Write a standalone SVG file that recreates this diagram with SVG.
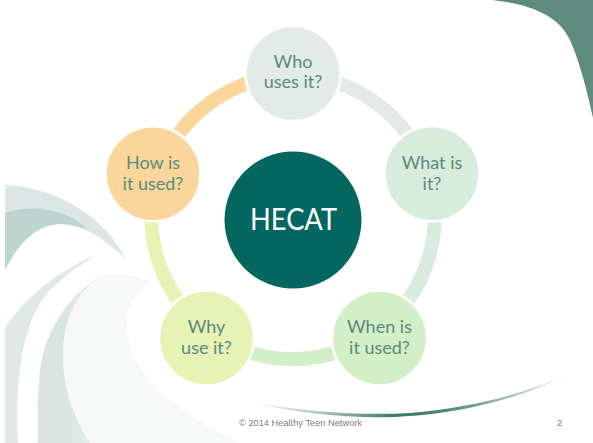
<svg xmlns="http://www.w3.org/2000/svg" width="593" height="443" viewBox="0 0 593 443">
  <defs>
    <linearGradient id="swoosh" x1="250" y1="0" x2="575" y2="0" gradientUnits="userSpaceOnUse">
      <stop offset="0" stop-color="#ffffff"/>
      <stop offset="0.25" stop-color="#9dbab3"/>
      <stop offset="0.45" stop-color="#3c786a"/>
      <stop offset="0.6" stop-color="#4f8577"/>
      <stop offset="0.85" stop-color="#b9d0ca"/>
      <stop offset="1" stop-color="#ffffff"/>
    </linearGradient>
    <linearGradient id="bandC" x1="40" y1="0" x2="90" y2="0" gradientUnits="userSpaceOnUse">
      <stop offset="0" stop-color="#d8e5e2"/>
      <stop offset="0.6" stop-color="#dbe6e3"/>
      <stop offset="1" stop-color="#e6eeec"/>
    </linearGradient>
  </defs>
  <style>
    .ring { fill: none; stroke-width: 14; }
    .node { stroke: #ffffff; stroke-width: 2.5; }
    .lbl { font-family: Lato, "Liberation Sans", sans-serif; font-size: 18px; fill: #5a8a7d; text-anchor: middle; }
    .foot { font-family: "Liberation Sans", Arial, sans-serif; font-size: 9.5px; fill: #808080; }
  </style>

  <rect width="593" height="443" fill="#ffffff"/>

  <!-- background decorations -->
  <g id="background">
    <path d="M492,0 C530,4 558,15 570,40 C580,62 588,95 593,118 L593,0 Z" fill="#5e8b7e"/>
    <path d="M5,185 C60,188 105,218 125,258 C112,246 100,237 88,231 C60,218 30,220 5,270 Z" fill="#dce7e5"/>
    <path d="M5,213 C35,203 70,210 88,230 C60,218 30,220 5,270 Z" fill="#bcd5cf"/>
    <path d="M95,256 C70,265 30,290 5,328 L5,443 L18,443 C15,380 22,320 50,290 C65,275 80,265 95,256 Z" fill="#dfe9e7"/>
    <path d="M95,278 C115,270 140,275 150,283 C130,295 125,315 127,330 C130,370 170,410 240,443 L90,443 C75,420 63,390 63,357 C63,320 75,297 95,278 Z" fill="#f7f8f8"/>
    <path d="M95,280 C70,295 45,330 40,370 C37,400 38,430 38,443 L90,443 C75,420 63,390 63,357 C63,320 75,297 95,280 Z" fill="url(#bandC)"/>
    <path d="M250,402 C300,414 360,420 410,416 C470,412 530,395 572,372 C530,393 470,408 410,413 C360,416 300,411 250,402 Z" fill="url(#swoosh)"/>
  </g>

  <!-- connectors (ring arcs) -->
  <g id="connectors">
    <path class="ring" d="M293,76 A141.5,141.5 0 0 1 427.6,173.8" stroke="#e2ebe8"/>
    <path class="ring" d="M427.6,173.8 A141.5,141.5 0 0 1 376.2,332" stroke="#d7ecdb"/>
    <path class="ring" d="M376.2,332 A141.5,141.5 0 0 1 209.8,332" stroke="#d3efc7"/>
    <path class="ring" d="M209.8,332 A141.5,141.5 0 0 1 158.4,173.8" stroke="#e7f2b5"/>
    <path class="ring" d="M158.4,173.8 A141.5,141.5 0 0 1 293,76" stroke="#fad69c"/>
  </g>

  <g id="hecat">
    <circle cx="293" cy="220" r="68.5" fill="#03665f"/>
    <text x="293.5" y="230" font-family="Lato, 'Liberation Sans', sans-serif" font-size="30" fill="#ffffff" text-anchor="middle" textLength="87" lengthAdjust="spacingAndGlyphs">HECAT</text>
  </g>

  <g id="who">
    <circle class="node" cx="293" cy="73.5" r="47.5" fill="#e2ebe8"/>
    <text class="lbl" x="293" y="67.7">Who</text>
    <text class="lbl" x="293" y="88.3">uses it?</text>
  </g>

  <g id="what">
    <circle class="node" cx="432" cy="173.8" r="47.5" fill="#d7ecdb"/>
    <text class="lbl" x="432" y="169.3">What is</text>
    <text class="lbl" x="432" y="190">it?</text>
  </g>

  <g id="when">
    <circle class="node" cx="379.5" cy="338" r="47.5" fill="#d3efc7"/>
    <text class="lbl" x="379.5" y="333.3">When is</text>
    <text class="lbl" x="379.5" y="354">it used?</text>
  </g>

  <g id="why">
    <circle class="node" cx="206.5" cy="338" r="47.5" fill="#e7f2b5"/>
    <text class="lbl" x="206.5" y="333.3">Why</text>
    <text class="lbl" x="206.5" y="354">use it?</text>
  </g>

  <g id="how">
    <circle class="node" cx="153" cy="173.8" r="47.5" fill="#fad69c"/>
    <text class="lbl" x="153" y="169.3">How is</text>
    <text class="lbl" x="153" y="190">it used?</text>
  </g>

  <g id="footer">
    <text class="foot" x="239" y="425.5" textLength="123" lengthAdjust="spacingAndGlyphs">© 2014  Healthy Teen Network</text>
    <text class="foot" x="557" y="425.5">2</text>
  </g>
</svg>
